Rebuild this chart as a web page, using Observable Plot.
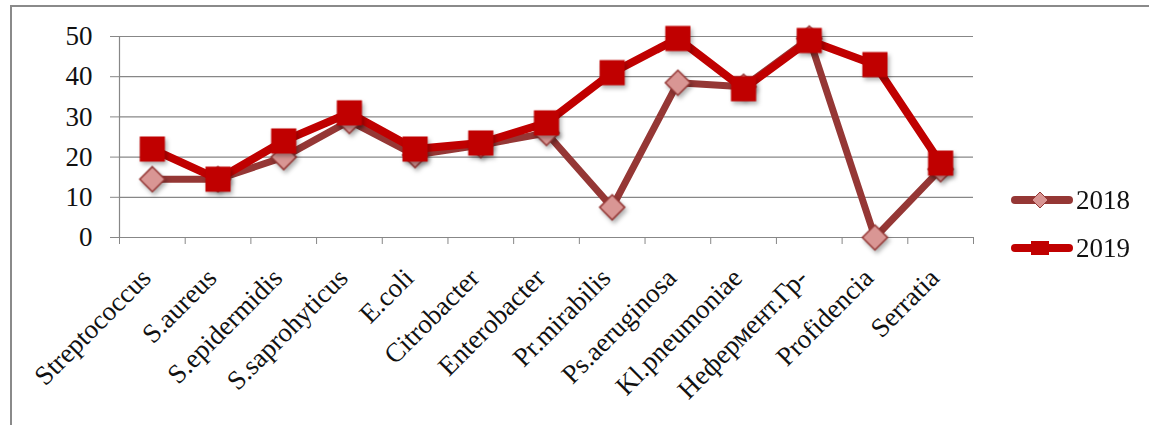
<!DOCTYPE html>
<html>
<head>
<meta charset="utf-8">
<script src="https://cdn.jsdelivr.net/npm/d3@7"></script>
<script src="https://cdn.jsdelivr.net/npm/@observablehq/plot@0.6"></script>
<style>
  html, body { margin: 0; padding: 0; background: #fff; }
  #frame { position: absolute; left: 10px; top: 5px; width: 1139px; height: 420px; border-left: 2px solid #8a8a8a; border-top: 2px solid #8a8a8a; box-sizing: border-box; pointer-events: none; }
  #legend { position: absolute; left: 1010px; top: 176px; font-family: "Liberation Serif", "Times New Roman", serif; }
  .item { display: flex; align-items: center; height: 48px; font-size: 27px; color: #111; }
  .item svg { display: block; margin-right: 2px; }
  #chart g[aria-label="dot"] { filter: drop-shadow(2px 3px 2px rgba(0,0,0,0.3)); }
</style>
</head>
<body>
<div id="chart"></div>
<div id="frame"></div>
<div id="legend"></div>
<script>
const categories = ["Streptococcus", "S.aureus", "S.epidermidis", "S.saprohyticus", "E.coli", "Citrobacter", "Enterobacter", "Pr.mirabilis", "Ps.aeruginosa", "Kl.pneumoniae", "Нефермент.Гр-", "Profidencia", "Serratia"];
const values2018 = [14.5, 14.5, 20, 29, 20.5, 23, 26, 7.5, 38.5, 37.5, 49.5, 0, 17];
const values2019 = [22, 14.5, 24, 31, 22, 23.5, 28.5, 41, 49.5, 37, 49, 43, 18.5];
const seriesNames = ["2018", "2019"];
const yTicks = [0, 10, 20, 30, 40, 50];

const colors = { line2018: "#953735", fill2018: "#d99694", c2019: "#c00000", grid: "#878787", text: "#111" };

const rows2018 = categories.map((c, i) => ({ i, c, v: values2018[i] }));
const rows2019 = categories.map((c, i) => ({ i, c, v: values2019[i] }));
const idx = categories.map((_, i) => i);
const bounds = d3.range(categories.length + 1).map(i => i - 0.5);

const chart = Plot.plot({
  width: 1149,
  height: 425,
  marginLeft: 119,
  marginRight: 176,
  marginTop: 36,
  marginBottom: 188,
  style: { fontFamily: "Liberation Serif, Times New Roman, serif", fontSize: "27px", background: "transparent" },
  x: { type: "linear", domain: [-0.5, categories.length - 0.5], axis: null },
  y: { domain: [0, 50], axis: null },
  marks: [
    Plot.gridY(yTicks.slice(1), { stroke: colors.grid, strokeOpacity: 1, strokeWidth: 1.2 }),
    Plot.ruleY([0], { stroke: colors.grid, strokeWidth: 1.2 }),
    Plot.ruleX([-0.5], { stroke: colors.grid, strokeWidth: 1.2 }),
    Plot.axisY(yTicks, { tickSize: 9, tickPadding: 18, fontSize: 27, stroke: colors.grid, fill: colors.text, label: null }),
    Plot.axisX(bounds, { tickSize: 7, tickFormat: () => "", stroke: colors.grid, label: null }),
    Plot.text(idx, { x: d => d, frameAnchor: "bottom", text: i => categories[i], rotate: -45, textAnchor: "end", lineAnchor: "middle", dy: 36, dx: -6, fontSize: 27, fill: colors.text }),
    Plot.line(rows2018, { x: "i", y: "v", stroke: colors.line2018, strokeWidth: 7, strokeLinejoin: "round", strokeLinecap: "round" }),
    Plot.dot(rows2018, { x: "i", y: "v", symbol: "diamond2", r: 11.3, fill: colors.fill2018, stroke: colors.line2018, strokeWidth: 1.5 }),
    Plot.line(rows2019, { x: "i", y: "v", stroke: colors.c2019, strokeWidth: 8, strokeLinejoin: "round", strokeLinecap: "round" }),
    Plot.dot(rows2019, { x: "i", y: "v", symbol: "square", r: 14.2, fill: colors.c2019, stroke: "none" })
  ]
});
document.getElementById("chart").appendChild(chart);

// legend
const legend = document.getElementById("legend");
seriesNames.forEach((name, k) => {
  const item = document.createElement("div");
  item.className = "item";
  const marker = k === 0
    ? `<polygon points="30,-8 38,0 30,8 22,0" fill="${colors.fill2018}" stroke="${colors.line2018}" stroke-width="1"/>`
    : `<rect x="21" y="-7" width="18" height="14" fill="${colors.c2019}"/>`;
  const lineColor = k === 0 ? colors.line2018 : colors.c2019;
  item.innerHTML = `<svg width="64" height="24" viewBox="0 -12 64 24"><line x1="5" y1="0" x2="59" y2="0" stroke="${lineColor}" stroke-width="8" stroke-linecap="round"/>${marker}</svg><span>${name}</span>`;
  legend.appendChild(item);
});
</script>
</body>
</html>
